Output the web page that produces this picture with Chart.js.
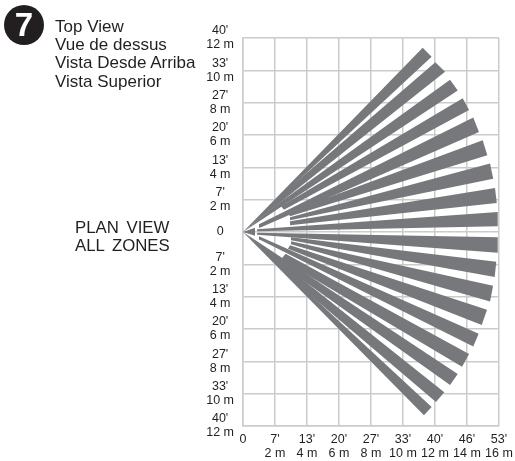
<!DOCTYPE html>
<html lang="en">
<head>
  <meta charset="UTF-8">
  <title>Top View - Plan View All Zones</title>
  <style>
    body {
      margin: 0;
      background: #fff;
      font-family: 'Liberation Sans', Arial, sans-serif;
      color: #231f20;
    }

    #wrap {
      position: relative;
      width: 515px;
      height: 461px;
      overflow: hidden;
    }

    #badge {
      position: absolute;
      left: 4px;
      top: 5px;
      width: 40px;
      height: 40px;
      border-radius: 50%;
      background: #231f20;
      color: #fff;
      font-size: 33px;
      font-weight: bold;
      line-height: 40px;
      text-align: center;
    }

    #heading {
      position: absolute;
      left: 55px;
      top: 18px;
      font-size: 17px;
      line-height: 18.2px;
      white-space: nowrap;
    }

    #plan {
      position: absolute;
      left: 75px;
      top: 219px;
      font-size: 16.8px;
      line-height: 18px;
      word-spacing: 3px;
      white-space: nowrap;
    }

    canvas {
      position: absolute;
      left: 0;
      top: 0;
    }
  </style>
</head>
<body>
  <div id="wrap">
    <canvas id="planChart" width="515" height="461"></canvas>
    <div id="badge">7</div>
    <div id="heading">Top View<br>Vue de dessus<br>Vista Desde Arriba<br>Vista Superior</div>
    <div id="plan">PLAN VIEW<br>ALL ZONES</div>
  </div>

  <script src="https://cdn.jsdelivr.net/npm/chart.js"></script>
  <script>
    // tick labels, feet over metres
    const xTickLabels = {0: ['0'], 2: ["7'", '2 m'], 4: ["13'", '4 m'], 6: ["20'", '6 m'], 8: ["27'", '8 m'],
      10: ["33'", '10 m'], 12: ["40'", '12 m'], 14: ["46'", '14 m'], 16: ["53'", '16 m']};
    const yTickLabels = {12: ["40'", '12 m'], 10: ["33'", '10 m'], 8: ["27'", '8 m'], 6: ["20'", '6 m'],
      4: ["13'", '4 m'], 2: ["7'", '2 m'], 0: ['0'], '-2': ["7'", '2 m'], '-4': ["13'", '4 m'],
      '-6': ["20'", '6 m'], '-8': ["27'", '8 m'], '-10': ["33'", '10 m'], '-12': ["40'", '12 m']};

    // detection zones in metres, first entry is the small arrow at the sensor
    const nearAX = [0, 0, 2.44, 2.19, 2.38, 1.0, 2.81, 2.94, 2.94, 0.88, 0.88, 3, 3, 2.94, 1, 2.66, 0, 0, 0];
    const nearAY = [0, 0, 2.34, 1.74, 1.6, 0.48, 1.2, 0.92, 0.67, 0.17, -0.04, -0.32, -0.57, -0.82, -0.26, -1.34, 0, 0, 0];
    const nearBX = [0, 0, 0, 0, 2.56, 1.06, 2.94, 2.94, 2.94, 0.88, 0.88, 3, 3, 2.81, 1.06, 2.38, 2.63, 2.94, 0];
    const nearBY = [0, 0, 0, 0, 1.38, 0.27, 0.98, 0.73, 0.42, 0.05, -0.17, -0.51, -0.76, -1.03, -0.48, -1.68, -2.2, -2.85, 0];
    const farAX = [0.75, 11.23, 12.02, 12.94, 13.73, 14.39, 14.98, 15.44, 15.75, 15.92, 15.92, 15.83, 15.63, 15.25, 14.73, 14.13, 13.42, 12.58, 11.79];
    const farAY = [0.27, 11.39, 10.5, 9.41, 8.27, 7.08, 5.67, 4.23, 2.72, 1.24, -0.33, -1.84, -3.33, -4.81, -6.3, -7.55, -8.79, -9.91, -10.82];
    const farBX = [0.75, 11.79, 12.63, 13.42, 14.13, 14.75, 15.27, 15.64, 15.86, 15.92, 15.92, 15.73, 15.44, 14.92, 14.39, 13.69, 12.94, 12.06, 11.31];
    const farBY = [-0.23, 10.84, 9.91, 8.75, 7.55, 6.19, 4.74, 3.3, 1.8, 0.35, -1.28, -2.79, -4.3, -5.76, -7.08, -8.34, -9.46, -10.51, -11.33];

    const zoneColor = '#77787b';
    const gridColor = '#cbcbcb';
    const textColor = '#231f20';

    const zones = farAX.map((_, i) => ({
      data: [
        {x: nearAX[i], y: nearAY[i]},
        {x: farAX[i], y: farAY[i]},
        {x: farBX[i], y: farBY[i]},
        {x: nearBX[i], y: nearBY[i]},
        {x: nearAX[i], y: nearAY[i]}
      ],
      showLine: true,
      fill: 'shape',
      backgroundColor: zoneColor,
      borderWidth: 0,
      pointRadius: 0,
      tension: 0
    }));

    const tickFont = {family: "'Liberation Sans', Arial, sans-serif", size: 12.5, lineHeight: 1.12};

    new Chart(document.getElementById('planChart'), {
      type: 'scatter',
      data: {datasets: zones},
      options: {
        responsive: false,
        animation: false,
        layout: {padding: {top: 38, right: 16, bottom: 0, left: 0}},
        plugins: {legend: {display: false}, tooltip: {enabled: false}},
        scales: {
          x: {
            min: 0,
            max: 16,
            afterFit: scale => { scale.height = 35; scale.paddingRight = 0; scale.paddingLeft = 0; },
            grid: {color: gridColor, lineWidth: 1.5, drawTicks: false},
            border: {color: gridColor, width: 1.5},
            ticks: {
              stepSize: 2,
              autoSkip: false,
              maxRotation: 0,
              padding: 7,
              color: textColor,
              font: tickFont,
              callback: value => xTickLabels[value]
            }
          },
          y: {
            min: -12,
            max: 12,
            afterFit: scale => { scale.width = 243; },
            grid: {color: gridColor, lineWidth: 1.5, drawTicks: false},
            border: {color: gridColor, width: 1.5},
            ticks: {
              stepSize: 2,
              autoSkip: false,
              padding: 9,
              crossAlign: 'center',
              color: textColor,
              font: tickFont,
              callback: value => yTickLabels[value]
            }
          }
        }
      }
    });
  </script>
</body>
</html>
